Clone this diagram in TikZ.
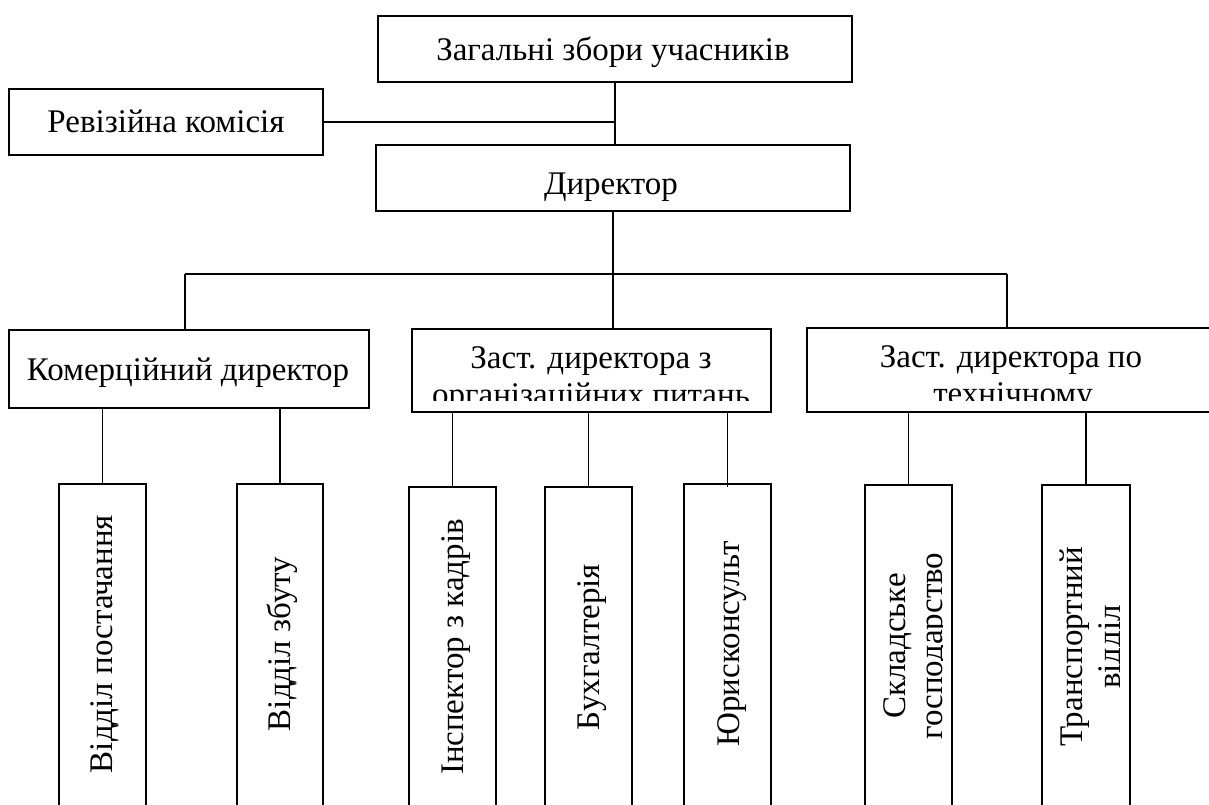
\documentclass[tikz,border=0pt]{standalone}
\usepackage{fontspec}
\setmainfont{Liberation Serif}
\begin{document}
\begin{tikzpicture}[x=1pt,y=-1pt,
  box/.style={draw, line width=1.8pt, inner sep=0pt, anchor=north west},
  lbl/.style={font=\fontsize{33}{38}\selectfont, inner sep=0pt, anchor=base},
  vlbl/.style={lbl, rotate=90},
  link/.style={line width=1.8pt}]
\useasboundingbox (0,0) rectangle (1209,805);
\clip (0,0) rectangle (1209,805);
\fill[white] (0,0) rectangle (1209,805);
% upper boxes
\node[box, minimum width=474pt, minimum height=66pt] (top) at (377,15) {};
\node[box, minimum width=314pt, minimum height=66pt] (rev) at (8,88) {};
\node[box, minimum width=474pt, minimum height=66pt] (dir) at (375,144) {};
\node[box, minimum width=360pt, minimum height=78pt] (kom) at (8,329) {};
\node[box, minimum width=359pt, minimum height=83pt] (org) at (411,328) {};
\node[box, minimum width=410pt, minimum height=84pt] (tech) at (806,327) {};
% bottom boxes
\node[box, minimum width=87pt, minimum height=340pt] (b1) at (58,483) {};
\node[box, minimum width=86pt, minimum height=340pt] (b2) at (236,483) {};
\node[box, minimum width=87pt, minimum height=340pt] (b3) at (408,486) {};
\node[box, minimum width=87pt, minimum height=340pt] (b4) at (544,486) {};
\node[box, minimum width=87pt, minimum height=340pt] (b5) at (683,483) {};
\node[box, minimum width=87pt, minimum height=340pt] (b6) at (864,484) {};
\node[box, minimum width=88pt, minimum height=340pt] (b7) at (1041,484) {};
% labels
\node[lbl] (topT) at (613,61) {Загальні збори учасників};
\node[lbl] (revT) at (166,133) {Ревізійна комісія};
\node[lbl] (dirT) at (611,194) {Директор};
\node[lbl] (komT) at (188,380) {Комерційний директор};
\begin{scope}
  \clip (411,328) rectangle (770,400);
  \node[lbl] (orgA) at (591,368) {Заст. директора з};
  \node[lbl] (orgB) at (591,405) {організаційних питань};
\end{scope}
\begin{scope}
  \clip (806,327) rectangle (1216,400);
  \node[lbl] (techA) at (1011,367) {Заст. директора по};
  \node[lbl] (techB) at (1013,404) {технічному};
\end{scope}
\node[vlbl] (b1T) at (112,644) {Відділ постачання};
\node[vlbl] (b2T) at (290,644) {Відділ збуту};
\node[vlbl] (b3T) at (463,647) {Інспектор з кадрів};
\node[vlbl] (b4T) at (599,647) {Бухгалтерія};
\node[vlbl] (b5T) at (739,644) {Юрисконсульт};
\begin{scope}
  \clip (864,484) rectangle (942.5,805);
  \node[vlbl] (b6A) at (905,646) {Складське};
  \node[vlbl] (b6B) at (942,646) {господарство};
\end{scope}
\begin{scope}
  \clip (1041,484) rectangle (1119,805);
  \node[vlbl] (b7A) at (1082,647) {Транспортний};
  \node[vlbl] (b7B) at (1120,647) {відділ};
\end{scope}
% connectors
\coordinate (busL) at (185,274);
\coordinate (busR) at (1007,274);
\draw[link] (top.south) -- (top.south |- dir.north);
\draw[link] (rev.east) -- (rev.east -| top.south);
\draw[link] (dir.south) -- (dir.south |- busL);
\draw[link] (busL) -- (busR);
\draw[link] (busL) -- (busL |- kom.north);
\draw[link] (dir.south |- busL) -- (dir.south |- org.north);
\draw[link] (busR) -- (busR |- tech.north);
\draw[link] (kom.south -| b1.north) -- (b1.north);
\draw[link] (kom.south -| b2.north) -- (b2.north);
\draw[link] (org.south -| b3.north) -- (b3.north);
\draw[link] (org.south -| b4.north) -- (b4.north);
\draw[link] (org.south -| b5.north) -- ([yshift=-4pt]b5.north);
\draw[link] (tech.south -| b6.north) -- (b6.north);
\draw[link] (tech.south -| b7.north) -- (b7.north);
\end{tikzpicture}
\end{document}
